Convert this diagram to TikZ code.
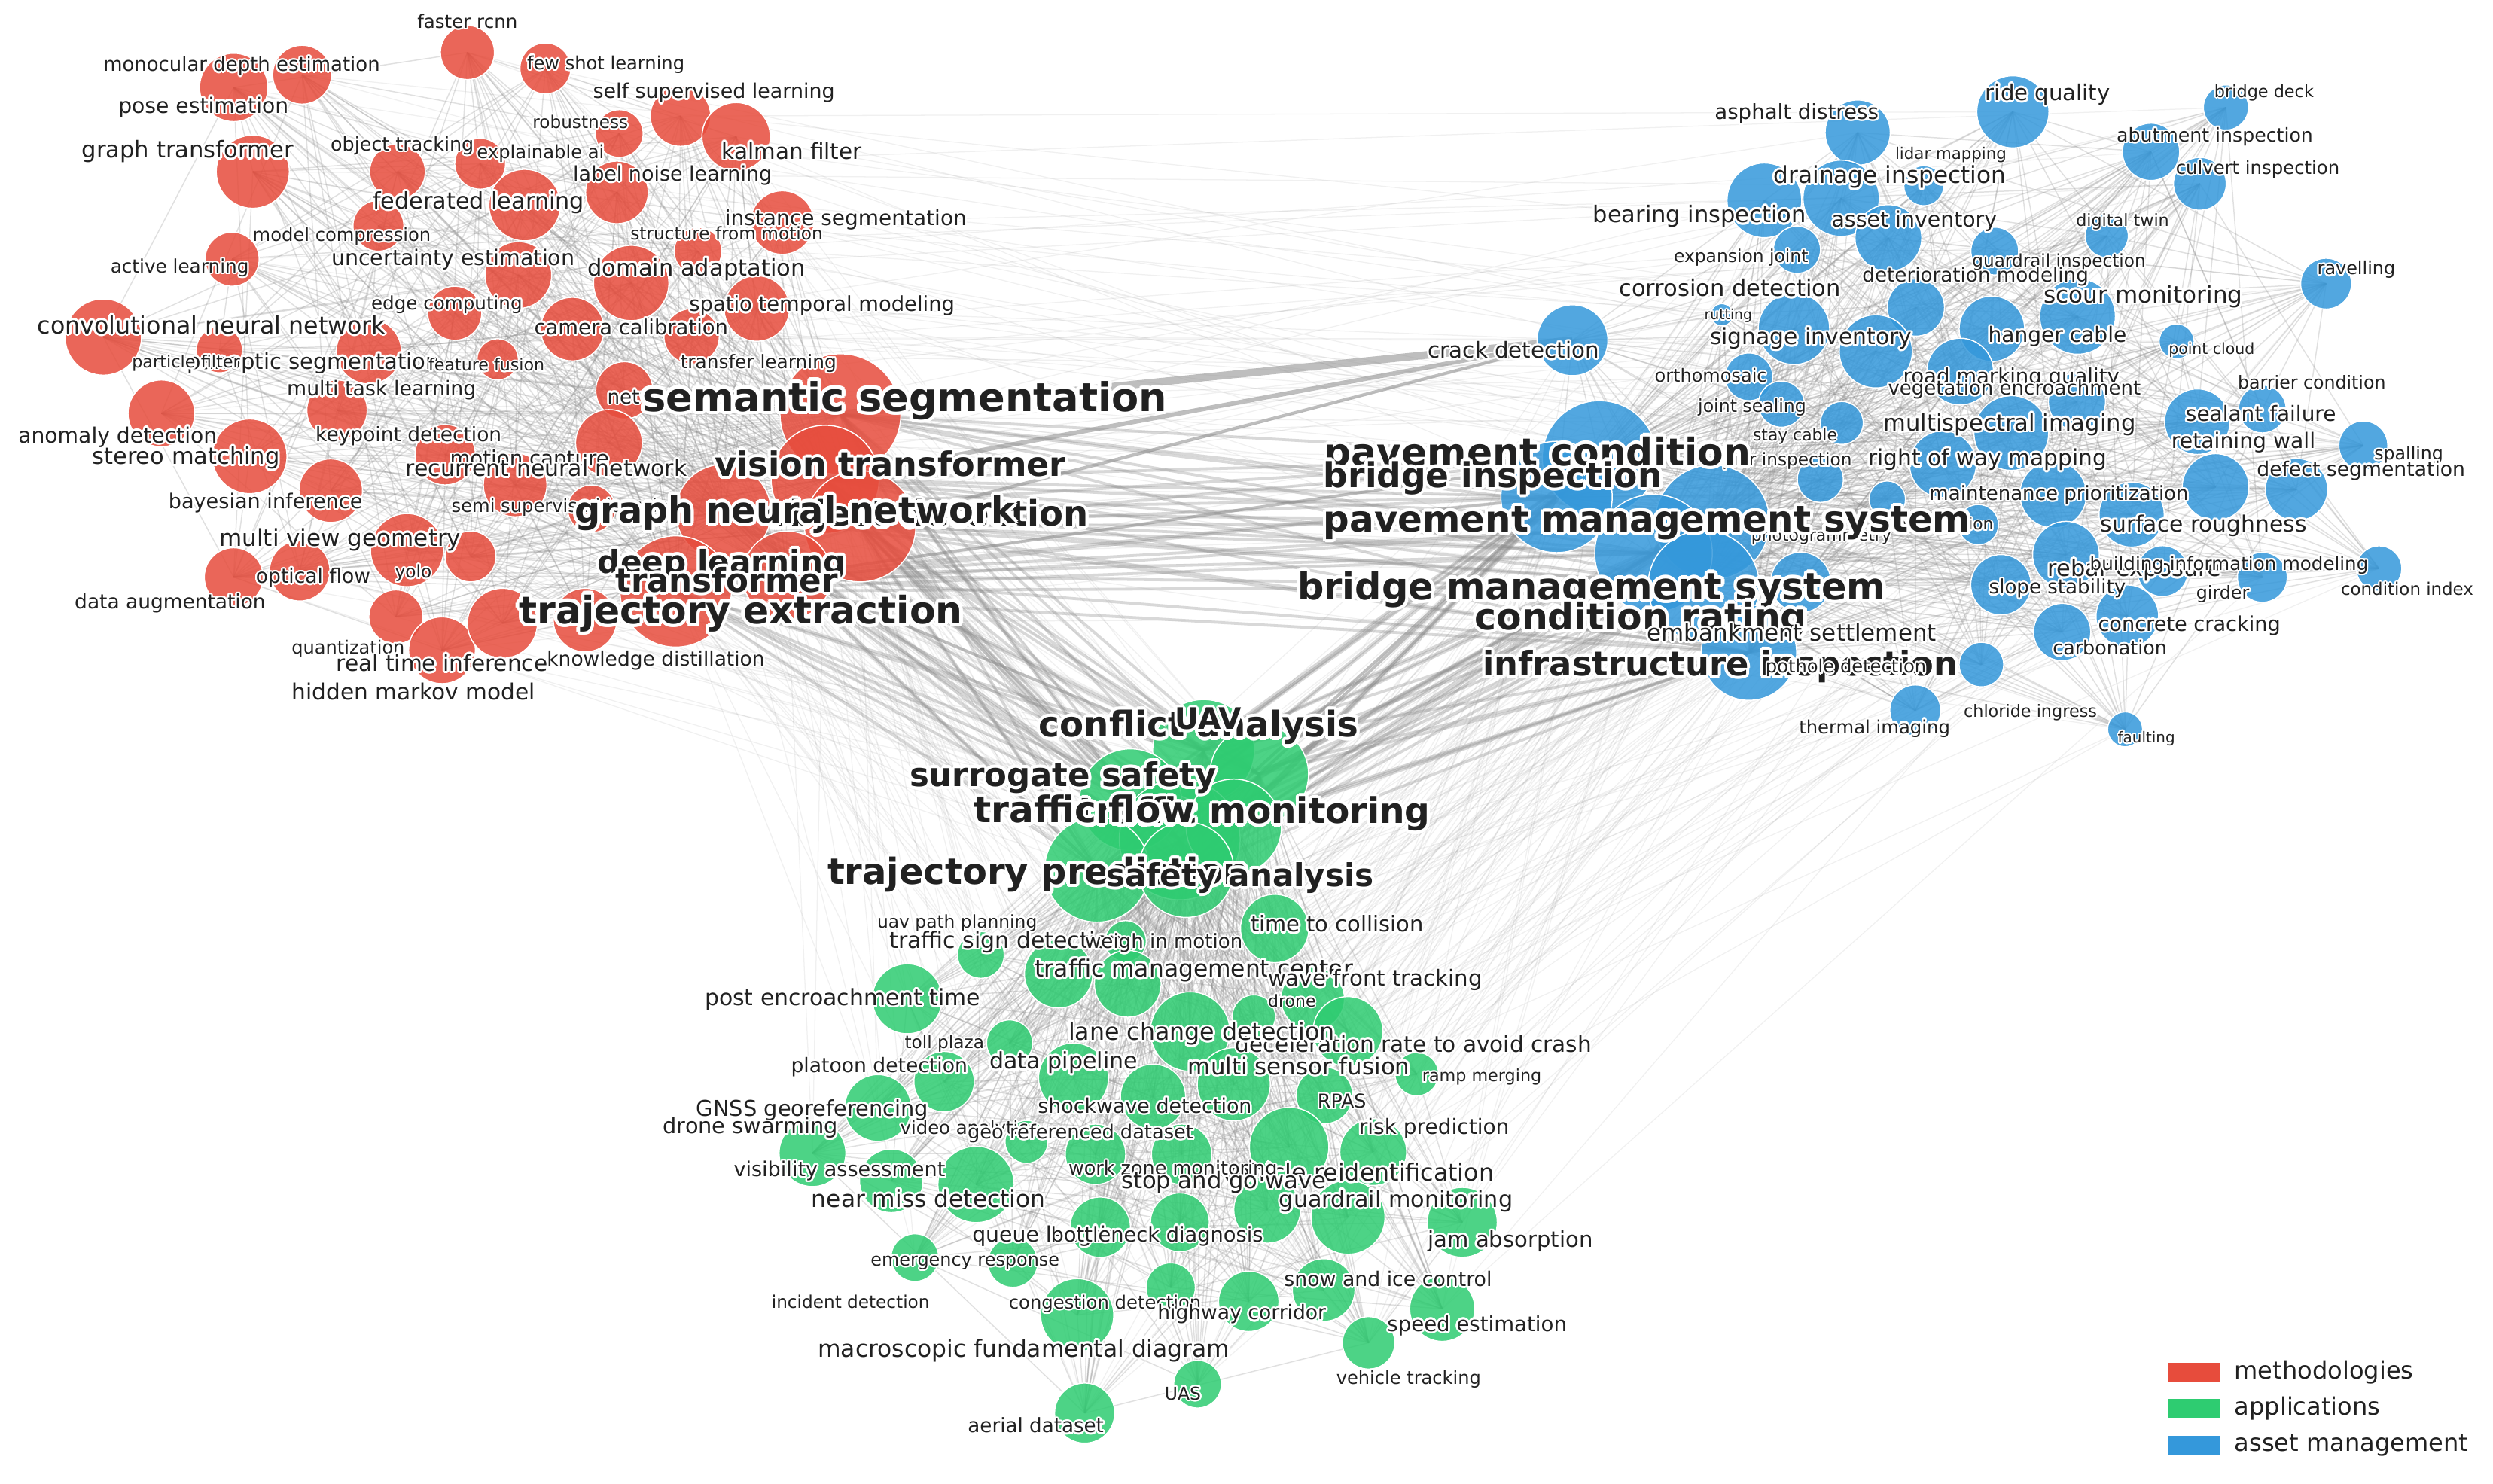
\documentclass[tikz,border=0pt]{standalone}
\usepackage{fontspec}
\setmainfont{DejaVu Sans}
\usepackage{graphicx}
\usepackage{contour}
\contourlength{0.9pt}
\contournumber{16}
\definecolor{cred}{HTML}{E74C3C}
\definecolor{cgreen}{HTML}{2ECC71}
\definecolor{cblue}{HTML}{3498DB}
\definecolor{egray}{HTML}{8A8A8A}
\tikzset{
  bub/.style={fill=#1, fill opacity=0.85, draw=white, line width=0.35pt},
  lab/.style={inner sep=0pt, text=black!87},
  ein/.style={draw=egray, draw opacity=0.26, line width=0.35pt},
  efaint/.style={draw=egray, draw opacity=0.12, line width=0.3pt},
  ehub/.style={draw=egray, draw opacity=0.33, line width=0.9pt},
  ethick/.style={draw=egray, draw opacity=0.55, line width=#1},
  legpatch/.style={fill=#1, minimum width=16pt, minimum height=6pt, inner sep=0pt},
  legtext/.style={anchor=west, inner sep=0pt, text=black!87, font=\fontsize{7.6}{9}\selectfont}
}
\newcommand\lbl[5]{\node[lab] (#1) at (#2,#3) {\resizebox{\dimexpr #4pt/2\relax}{!}{\contour{white}{#5}}};}
\newcommand\lblb[5]{\node[lab] (#1) at (#2,#3) {\resizebox{\dimexpr #4pt/2\relax}{!}{\bfseries\contour{white}{#5}}};}

\def\RedPer{faster/294/33/17, fewshot/343/43/16, pose/147/55/21.5, mono/190/47/18.5, graphtr/159/108/23, objtrack/250/108/17.5, xai/302/103/16, fedlearn/330/129/22.5, modelcomp/238/142/16, active/146/163/17, uncert/326/173/21, edgec/286/197/17, cnn/65/212/24, particle/138/220/14.5, panoptic/232/221/20.5, featfus/313/226/13, camcal/360/207/20, selfsup/428/73/19, kalman/463/86/21.5, robust/389.5/84/15, labelnoise/388/121/19.7, instseg/492/140/20, sfm/439/158/15, domain/397/178/23.7, spatio/476/194/20.6, transfer/435/211.6/17.4, netprune/392.7/245.5/18, anomaly/101.5/260/21, stereo/157/287/23.5, multitask/212/258/19, keypoint/280/286/19, bayes/208/308.6/20, motion/324/305/20, rnn/383/278.6/21, semisup/372/320/15, mvg/256/346/23, yolo/296/350/16, optflow/188.5/359/19, dataaug/147/363/18.5, quant/249/388/17, rti/278/409/21, hmm/316/392/22, kd/368/390/20}
\def\RedHub{semseg/528.6/260.5/38, vit/519/301.5/34, objdet/541/331/35, gnn/455/322/30, deeplearn/495/362/28, transf/425/372/35}
\def\GreenHub{uav/757/472/32, conflict/792/487/31, surrogate/711/503/32, tflow/742/528/38, trajpred/690/547/33, tmon/776/520/30, safety/746/547/30}
\def\GreenPer{ttc/801.7/584/21.5, tsign/616.9/600.6/14.7, wim/708/592/13, tmc/665.8/612.5/21.5, tmc2/709.3/618.8/21, wavef/825.6/628.2/20, pet/570.6/628.2/22, drone/788.6/639.3/13.6, lane/748.5/648.8/25, decel/847.8/648.8/22, toll/635/656/14.5, datapipe/675.2/678/22, platoon/593.8/680.3/19, msf/776/682/23, ramp/891.1/675.6/13.7, rpas/833/689/17.8, shock/725.2/689.8/20.5, gnss/552.2/696.9/21, swarm/511/725.3/21, georef/645.6/718.2/13.5, workzone/689/726/19, risk/863.7/724.6/21, reid/810.8/721.4/25, geods/743.2/726/19, visib/560.6/742.7/20, nearmiss/613.9/745/24, stopgo/797/760.9/21, guardmon/847.8/765.6/23.3, jam/919.7/768.8/22, bottle/742.1/768.8/18.5, queue/692/771.9/19, emerg/575.4/791/15, queuetwo/637/794/15.7, congest/736.3/809.8/15.5, macro/677.5/827.2/23, highway/785.4/818.5/19, snow/832.5/811.4/19.7, speed/907.1/823.2/20.5, vtrack/860.8/844.6/16.5, uas/753.2/870.6/15, aerial/682.2/888.8/18.9}
\def\BlueHub{pavcond/1006/288/36, bridgeinsp/979/312.6/35, pms/1077/328.4/36, bms/1040/348/37, condrating/1071.5/368.6/35, infrainsp/1100/410.5/30}
\def\BluePer{asphalt/1168.4/83.4/20.5, lidar/1210/116.8/12.6, drainage/1158/124.7/24, bearing/1109.7/126/23.5, assetinv/1187.7/149.7/21, expjoint/1130.2/157.1/14.8, corrosion/1128.3/206.8/22.5, deterior/1205/193.4/18, rutting/1083/198/7, signage/1179.8/221/23, crack/989/214/22.3, ortho/1100/237/15, ride/1266/70.3/22.7, bdeck/1400/67.6/14.2, abut/1352.9/95.5/18, culvert/1383.6/115.6/16.6, dtwin/1325/148.4/13.6, guardinsp/1254.6/157.9/15, ravel/1463/178.4/16, scour/1306.7/199/23.8, hanger/1252.8/206.8/20.6, pcloud/1369/214.7/11, roadmark/1232.8/233.7/21, vegen/1306.3/252.6/18, barrier/1422.9/257.3/15, sealant/1382/265.2/20.6, retain/1393.5/306.3/21, spall/1486.4/280.2/15.4, defseg/1444.4/307.9/19.6, multispec/1265/272.3/23.5, rowmap/1222/292/21, maintprio/1291.4/311/21, surfrough/1340.7/323.6/20.5, delam/1244.3/330/12.7, rebar/1299.4/348.9/21, bim/1360.2/359.2/16, slope/1258.5/367.8/19, girder/1422.9/363.1/15.7, condidx/1496.3/357.6/14.3, concrack/1338/387.6/19.7, carbon/1297/397.5/18, chloride/1246.2/418/14, fault/1336.6/458.7/11, thermal/1204.6/446.8/16, jointseal/1120.4/254.2/14.5, staycable/1158.4/266/13.5, pier/1144.9/301.5/14.5, photog/1187/314/11.5, embank/1132.6/366.3/19}

\begin{document}
\begin{tikzpicture}[x=0.5pt,y=-0.5pt]
\useasboundingbox (0,0) rectangle (1568,933);
\fill[white] (0,0) rectangle (1568,933);

% ---------- node positions ----------
\foreach \n/\x/\y/\r in \RedPer {\coordinate (\n) at (\x,\y);}
\foreach \n/\x/\y/\r in \RedHub {\coordinate (\n) at (\x,\y);}
\foreach \n/\x/\y/\r in \GreenHub {\coordinate (\n) at (\x,\y);}
\foreach \n/\x/\y/\r in \GreenPer {\coordinate (\n) at (\x,\y);}
\foreach \n/\x/\y/\r in \BlueHub {\coordinate (\n) at (\x,\y);}
\foreach \n/\x/\y/\r in \BluePer {\coordinate (\n) at (\x,\y);}

% ---------- faint long edges ----------
\foreach \a/\ax/\ay/\ar [count=\i] in \RedPer {
  \foreach \b/\bx/\by/\br [count=\j] in \BluePer {
    \ifnum\numexpr \i*3+\j*7-((\i*3+\j*7)/29)*29\relax=0 \draw[efaint] (\a) -- (\b);\fi
  }
  \foreach \b/\bx/\by/\br [count=\j] in \GreenHub {
    \ifnum\numexpr \i+\j-((\i+\j)/4)*4\relax=0 \draw[efaint] (\a) -- (\b);\fi
  }
}
\foreach \a/\ax/\ay/\ar [count=\i] in \GreenPer {
  \foreach \b/\bx/\by/\br [count=\j] in \BluePer {
    \ifnum\numexpr \i*5+\j*3-((\i*5+\j*3)/19)*19\relax=0 \draw[efaint] (\a) -- (\b);\fi
  }
  \foreach \b/\bx/\by/\br [count=\j] in \BlueHub {
    \ifnum\numexpr \i+\j-((\i+\j)/3)*3\relax=0 \draw[efaint] (\a) -- (\b);\fi
  }
  \foreach \b/\bx/\by/\br [count=\j] in \RedHub {
    \ifnum\numexpr \i+\j-((\i+\j)/3)*3\relax=0 \draw[efaint] (\a) -- (\b);\fi
  }
}

% ---------- intra-cluster edges ----------
\foreach \a/\ax/\ay/\ar [count=\i] in \RedPer {
  \foreach \b/\bx/\by/\br [count=\j] in \RedPer {
    \ifnum\j>\i
      \ifnum\numexpr \i*7+\j*11-((\i*7+\j*11)/4)*4\relax=0 \draw[ein] (\a) -- (\b);\fi
    \fi
  }
  \foreach \b/\bx/\by/\br in \RedHub {\draw[ein] (\a) -- (\b);}
}
\foreach \a/\ax/\ay/\ar [count=\i] in \GreenPer {
  \foreach \b/\bx/\by/\br [count=\j] in \GreenPer {
    \ifnum\j>\i
      \ifnum\numexpr \i*7+\j*11-((\i*7+\j*11)/4)*4\relax=0 \draw[ein] (\a) -- (\b);\fi
    \fi
  }
  \foreach \b/\bx/\by/\br in \GreenHub {\draw[ein] (\a) -- (\b);}
}
\foreach \a/\ax/\ay/\ar [count=\i] in \BluePer {
  \foreach \b/\bx/\by/\br [count=\j] in \BluePer {
    \ifnum\j>\i
      \ifnum\numexpr \i*7+\j*11-((\i*7+\j*11)/4)*4\relax=0 \draw[ein] (\a) -- (\b);\fi
    \fi
  }
  \foreach \b/\bx/\by/\br in \BlueHub {\draw[ein] (\a) -- (\b);}
}

% ---------- hub-to-hub edges ----------
\foreach \a/\ax/\ay/\ar in \RedHub {
  \foreach \b/\bx/\by/\br in \GreenHub {\draw[ehub] (\a) -- (\b);}
  \foreach \b/\bx/\by/\br in \BlueHub {\draw[ehub] (\a) -- (\b);}
}
\foreach \a/\ax/\ay/\ar in \BlueHub {
  \foreach \b/\bx/\by/\br in \GreenHub {\draw[ehub] (\a) -- (\b);}
}
\draw[ethick=2.4pt] (semseg) -- (crack);
\draw[ethick=1.4pt] (vit) -- (crack);
\draw[ethick=1pt] (objdet) -- (crack);

% ---------- bubbles ----------
\foreach \n/\x/\y/\r in \RedPer {\path[bub=cred] (\n) circle[radius=\r];}
\foreach \n/\x/\y/\r in \RedHub {\path[bub=cred] (\n) circle[radius=\r];}
\foreach \n/\x/\y/\r in \GreenPer {\path[bub=cgreen] (\n) circle[radius=\r];}
\foreach \n/\x/\y/\r in \GreenHub {\path[bub=cgreen] (\n) circle[radius=\r];}
\foreach \n/\x/\y/\r in \BluePer {\path[bub=cblue] (\n) circle[radius=\r];}
\foreach \n/\x/\y/\r in \BlueHub {\path[bub=cblue] (\n) circle[radius=\r];}

% ---------- red labels ----------
\lbl{lr1}{294}{14}{63}{faster rcnn}
\lbl{lr2}{381}{41}{99}{few shot learning}
\lbl{lr3}{152}{42}{174}{monocular depth estimation}
\lbl{lr4}{128}{68}{107}{pose estimation}
\lbl{lr5}{449}{59}{152}{self supervised learning}
\lbl{lr6}{365}{77}{60}{robustness}
\lbl{lr7}{498}{95.5}{88}{kalman filter}
\lbl{lr8}{118}{96}{133}{graph transformer}
\lbl{lr9}{253}{92}{90}{object tracking}
\lbl{lr10}{340}{97}{80}{explainable ai}
\lbl{lr11}{423}{111}{125}{label noise learning}
\lbl{lr12}{301}{128}{133}{federated learning}
\lbl{lr13}{532}{139}{152}{instance segmentation}
\lbl{lr14}{457}{147}{121}{structure from motion}
\lbl{lr15}{215}{149}{112}{model compression}
\lbl{lr16}{285}{164}{153}{uncertainty estimation}
\lbl{lr17}{113}{169}{87}{active learning}
\lbl{lr18}{438}{170}{137}{domain adaptation}
\lbl{lr19}{281}{192}{95}{edge computing}
\lbl{lr20}{517}{193}{167}{spatio temporal modeling}
\lbl{lr21}{133}{205}{219}{convolutional neural network}
\lbl{lr22}{397}{206}{122}{camera calibration}
\lbl{lr24}{197}{229}{159}{panoptic segmentation}
\lbl{lr23}{117}{229}{68}{particle filter}
\lbl{lr25}{306}{230}{73}{feature fusion}
\lbl{lr26}{477}{229}{98}{transfer learning}
\lbl{lr27}{240}{246}{119}{multi task learning}
\lbl{lr28}{433}{251}{102}{network pruning}
\lbl{lr30}{74}{275.5}{125}{anomaly detection}
\lbl{lr31}{257}{275}{117}{keypoint detection}
\lbl{lr32}{117}{288.6}{118}{stereo matching}
\lbl{lr33}{333}{290}{100}{motion capture}
\lbl{lr34}{343.6}{295}{177}{recurrent neural network}
\lbl{lr35}{356}{319.7}{144}{semi supervised learning}
\lbl{lr42}{412.5}{416}{137}{knowledge distillation}
\lbl{lr43}{167}{317}{122}{bayesian inference}
\lbl{lr44}{214}{340}{152}{multi view geometry}
\lbl{lr45}{260}{361}{23}{yolo}
\lbl{lr46}{197}{364}{72}{optical flow}
\lbl{lr47}{107}{380}{120}{data augmentation}
\lbl{lr48}{219}{408.6}{71}{quantization}
\lbl{lr49}{278}{417.6}{133}{real time inference}
\lbl{lr50}{260}{435.7}{153}{hidden markov model}
\lblb{lr29}{569}{253}{330}{semantic segmentation}
\lblb{lr36}{560}{292.8}{221}{vision transformer}
\lblb{lr38}{583}{326}{203}{object detection}
\lblb{lr37}{500}{323.6}{277}{graph neural network}
\lblb{lr39}{454}{356}{156}{deep learning}
\lblb{lr40}{457}{365.5}{140}{transformer}
\lblb{lr41}{466}{386.7}{279}{trajectory extraction}

% ---------- blue labels ----------
\lbl{lb1}{1130}{72}{103}{asphalt distress}
\lbl{lb2}{1227}{97.6}{70}{lidar mapping}
\lbl{lb3}{1288}{60}{78.5}{ride quality}
\lbl{lb4}{1424}{58.7}{62.5}{bridge deck}
\lbl{lb5}{1393}{86.5}{123.5}{abutment inspection}
\lbl{lb6}{1188.6}{112}{146}{drainage inspection}
\lbl{lb7}{1420}{107}{103}{culvert inspection}
\lbl{lb8}{1069}{136.6}{134}{bearing inspection}
\lbl{lb9}{1204}{139.7}{104}{asset inventory}
\lbl{lb10}{1335}{139.7}{58.5}{digital twin}
\lbl{lb11}{1095}{162.6}{84.5}{expansion joint}
\lbl{lb12}{1295}{165.5}{109}{guardrail inspection}
\lbl{lb13}{1482}{170.2}{49}{ravelling}
\lbl{lb14}{1088}{181.6}{139.4}{corrosion detection}
\lbl{lb15}{1242.5}{174.5}{142.3}{deterioration modeling}
\lbl{lb16}{1348}{187}{125}{scour monitoring}
\lbl{lb17}{1087}{199}{30}{rutting}
\lbl{lb18}{1139}{213.5}{127}{signage inventory}
\lbl{lb19}{1294}{212.4}{87}{hanger cable}
\lbl{lb20}{952}{220.7}{107.5}{crack detection}
\lbl{lb21}{1391}{220.7}{54}{point cloud}
\lbl{lb22}{1076}{236.8}{70.6}{orthomosaic}
\lbl{lb23}{1265}{238.4}{136}{road marking quality}
\lbl{lb24}{1267}{245.5}{159}{vegetation encroachment}
\lbl{lb25}{1454}{240.8}{93}{barrier condition}
\lbl{lb26}{1102}{256.6}{68}{joint sealing}
\lbl{lb27}{1422}{260.5}{94.5}{sealant failure}
\lbl{lb28}{1264}{267.6}{158.6}{multispectral imaging}
\lbl{lb29}{1129}{274.7}{53}{stay cable}
\lbl{lb30}{1411}{279}{90.6}{retaining wall}
\lbl{lb31}{1515}{286.5}{43.4}{spalling}
\lbl{lb32}{1124}{290.5}{81.5}{pier inspection}
\lbl{lb33}{1250}{289.7}{150}{right of way mapping}
\lbl{lb34}{1485}{296.5}{131}{defect segmentation}
\lbl{lb35}{1295}{311.8}{163}{maintenance prioritization}
\lbl{lb36}{1220}{330}{67.5}{delamination}
\lbl{lb37}{1145.5}{337.9}{88}{photogrammetry}
\lbl{lb38}{1386}{331.5}{129.7}{surface roughness}
\lbl{lb40}{1342.6}{359.2}{109}{rebar exposure}
\lbl{lb39}{1402}{356}{175}{building information modeling}
\lbl{lb41}{1294}{370.7}{86}{slope stability}
\lbl{lb42}{1398}{374.2}{33.3}{girder}
\lbl{lb43}{1514}{371}{83.3}{condition index}
\lbl{lb44}{1377}{394}{114.8}{concrete cracking}
\lbl{lb45}{1327}{408}{71.8}{carbonation}
\lbl{lb46}{1277}{448.7}{83.8}{chloride ingress}
\lbl{lb47}{1350}{465}{36}{faulting}
\lbl{lb48}{1179}{458.6}{95}{thermal imaging}
\lblb{lb49}{967}{287.3}{268}{pavement condition}
\lblb{lb50}{939}{301.5}{213}{bridge inspection}
\lblb{lb51}{1036}{330}{407}{pavement management system}
\lblb{lb52}{1001}{371.8}{370}{bridge management system}
\lblb{lb53}{1032}{390.8}{209}{condition rating}
\lbl{lb54}{1127}{398.6}{182}{embankment settlement}
\lblb{lb55}{1082}{420}{299}{infrastructure inspection}
\lbl{lb56}{1161}{420.7}{101}{pothole detection}

% ---------- green labels ----------
\lblb{lg1}{754}{458.5}{201}{conflict analysis}
\lblb{lg2}{760}{453}{42}{UAV}
\lblb{lg3}{668.6}{490}{193}{surrogate safety}
\lblb{lg5}{789}{513}{221}{traffic monitoring}
\lblb{lg4}{682}{510}{139}{traffic flow}
\lblb{lg6}{653}{551}{265}{trajectory prediction}
\lblb{lg7}{780}{553}{168.5}{safety analysis}
\lbl{lg8}{841}{581.7}{108.7}{time to collision}
\lbl{lg9}{602}{581}{100.5}{uav path planning}
\lbl{lg10}{633}{593}{147}{traffic sign detection}
\lbl{lg11}{732}{593.8}{99}{weigh in motion}
\lbl{lg12}{751}{611}{200}{traffic management center}
\lbl{lg13}{865}{617}{135}{wave front tracking}
\lbl{lg14}{530}{629}{173.4}{post encroachment time}
\lbl{lg15}{812.6}{629.8}{30}{drone}
\lbl{lg16}{594}{657}{50}{toll plaza}
\lbl{lg18}{889}{657}{224}{deceleration rate to avoid crash}
\lbl{lg17}{755.7}{651}{167.4}{lane change detection}
\lbl{lg19}{669}{669}{93}{data pipeline}
\lbl{lg20}{817}{671}{139.5}{multi sensor fusion}
\lbl{lg21}{553}{671.7}{111}{platoon detection}
\lbl{lg22}{932}{678}{75}{ramp merging}
\lbl{lg23}{844}{693}{30.6}{RPAS}
\lbl{lg24}{720}{696}{134.6}{shockwave detection}
\lbl{lg25}{511}{699}{146}{GNSS georeferencing}
\lbl{lg26}{472}{710}{110}{drone swarming}
\lbl{lg27}{609.5}{711}{86.5}{video analytics}
\lbl{lg28}{679.6}{713.5}{142}{geo referenced dataset}
\lbl{lg29}{902}{710.3}{94.5}{risk prediction}
\lbl{lg31}{854}{738}{171.3}{vehicle reidentification}
\lbl{lg30}{737.7}{736.4}{131.4}{work zone monitoring}
\lbl{lg32}{769.6}{744.3}{128.8}{stop and go wave}
\lbl{lg33}{528}{737}{133}{visibility assessment}
\lbl{lg34}{584}{754.6}{147}{near miss detection}
\lbl{lg35}{878}{756}{147}{guardrail monitoring}
\lbl{lg36}{656}{778}{89}{queue length}
\lbl{lg37}{727.7}{778}{133.5}{bottleneck diagnosis}
\lbl{lg38}{950}{781.4}{103.6}{jam absorption}
\lbl{lg39}{607}{794.8}{118.7}{emergency response}
\lbl{lg40}{873}{805}{130.7}{snow and ice control}
\lbl{lg41}{535}{819}{99.3}{incident detection}
\lbl{lg42}{695}{820.6}{121}{congestion detection}
\lbl{lg43}{781}{827.2}{106}{highway corridor}
\lbl{lg44}{929}{834.3}{113}{speed estimation}
\lbl{lg45}{644}{850}{259}{macroscopic fundamental diagram}
\lbl{lg46}{886}{868}{91}{vehicle tracking}
\lbl{lg47}{744}{877}{22.8}{UAS}
\lbl{lg48}{651.5}{897}{85.5}{aerial dataset}

% ---------- legend ----------
\node[legpatch=cred] (legr) at (1380,863) {};
\node[legpatch=cgreen] (legg) at (1380,886) {};
\node[legpatch=cblue] (legb) at (1380,909) {};
\node[legtext] (legrt) at (1405,863) {methodologies};
\node[legtext] (leggt) at (1405,886) {applications};
\node[legtext] (legbt) at (1405,909) {asset management};
\end{tikzpicture}
\end{document}
